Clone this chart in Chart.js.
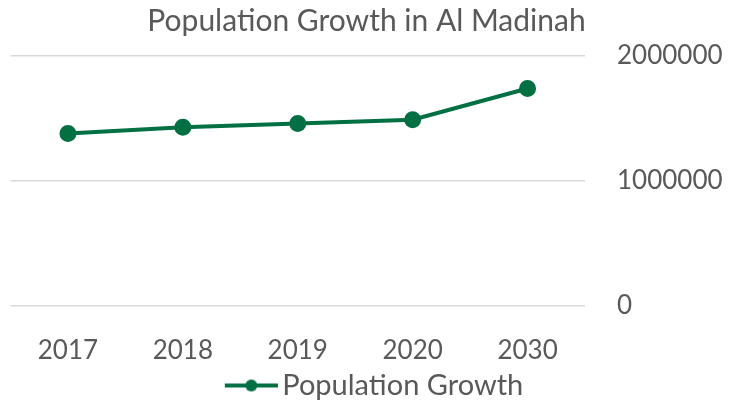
<!DOCTYPE html>
<html>
<head>
<meta charset="utf-8">
<script src="https://cdn.jsdelivr.net/npm/chart.js@4"></script>
<style>
  html, body { margin: 0; padding: 0; background: #fff; }
  #wrap { width: 733px; height: 404px; }
</style>
</head>
<body>
<div id="wrap"><canvas id="popChart" width="733" height="404"></canvas></div>
<script>
const years = ['2017', '2018', '2019', '2020', '2030'];
const population = [1380000, 1430000, 1460000, 1490000, 1740000];
const yTicks = [0, 1000000, 2000000];

const green = '#037044';
const grey = '#595959';

// legend marker: line with a dot, blank space on the left to push the item right
const marker = document.createElement('canvas');
marker.width = 78;
marker.height = 14;
const mctx = marker.getContext('2d');
mctx.strokeStyle = green;
mctx.lineWidth = 4;
mctx.beginPath();
mctx.moveTo(25, 7);
mctx.lineTo(78, 7);
mctx.stroke();
mctx.fillStyle = green;
mctx.beginPath();
mctx.arc(51.5, 7, 6, 0, Math.PI * 2);
mctx.fill();

new Chart(document.getElementById('popChart'), {
  type: 'line',
  data: {
    labels: years,
    datasets: [{
      label: 'Population Growth',
      data: population,
      borderColor: green,
      backgroundColor: green,
      borderWidth: 4,
      pointRadius: 6.5,
      pointHoverRadius: 6.5,
      tension: 0,
    }],
  },
  options: {
    responsive: false,
    animation: false,
    layout: { padding: { left: 8, right: 8, top: 0, bottom: -6 } },
    plugins: {
      title: {
        display: true,
        text: 'Population Growth in Al Madinah',
        color: grey,
        font: { family: 'Lato', size: 30, weight: 'normal' },
        padding: { top: 3, bottom: 17 },
      },
      legend: {
        position: 'bottom',
        labels: {
          color: grey,
          font: { family: 'Lato', size: 29 },
          usePointStyle: true,
          pointStyleWidth: 58,
          padding: 2,
          generateLabels: (chart) => [{
            text: chart.data.datasets[0].label,
            pointStyle: marker,
            fontColor: grey,
            datasetIndex: 0,
          }],
        },
      },
      tooltip: { enabled: false },
    },
    scales: {
      x: {
        offset: true,
        afterFit: (axis) => { axis.height = 63; },
        grid: { display: false },
        border: { display: false },
        ticks: { color: grey, font: { family: 'Lato', size: 26 }, padding: 21 },
      },
      y: {
        position: 'right',
        min: 0,
        max: 2000000,
        afterBuildTicks: (axis) => { axis.ticks = yTicks.map(v => ({ value: v })); },
        afterFit: (axis) => { axis.width = 140; },
        grid: { color: '#d9d9d9', lineWidth: 1.5, drawTicks: false },
        border: { display: false },
        ticks: {
          color: grey,
          font: { family: 'Lato', size: 26 },
          padding: 32,
          callback: (v) => String(v),
        },
      },
    },
  },
});
</script>
</body>
</html>
